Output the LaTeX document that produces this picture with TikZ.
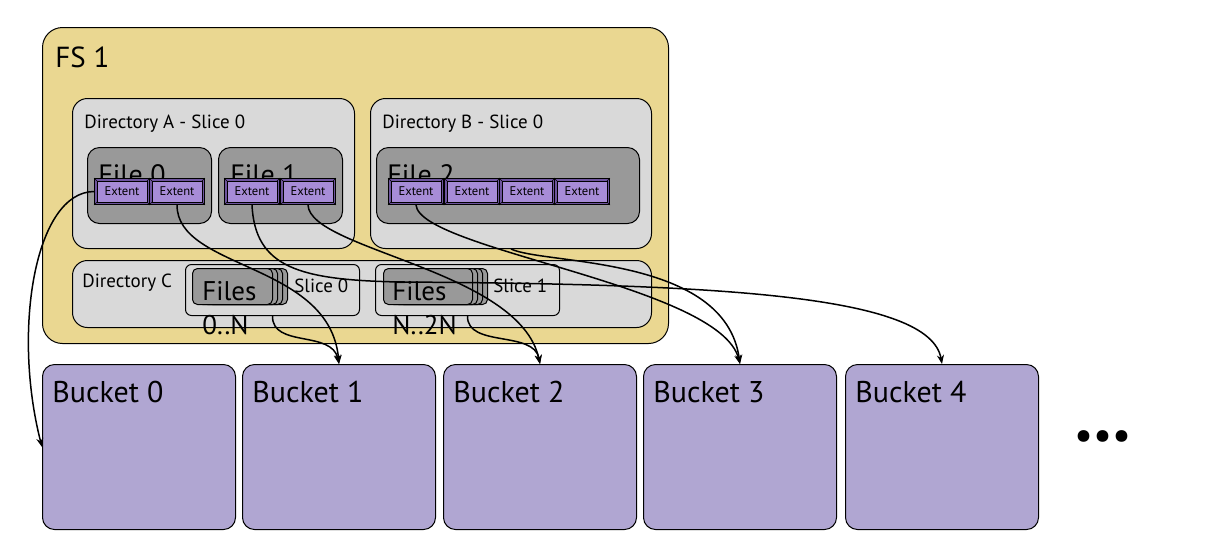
\documentclass[tikz,border=0pt]{standalone}
\usepackage{fontspec}
\setmainfont{PT Sans}
\usetikzlibrary{arrows.meta}

\definecolor{fsyellow}{RGB}{234,215,145}
\definecolor{dirgray}{RGB}{217,217,217}
\definecolor{filegray}{RGB}{153,153,153}
\definecolor{extentfill}{RGB}{167,140,215}
\definecolor{extentedge}{RGB}{110,84,158}
\definecolor{bucketfill}{RGB}{176,166,210}

\tikzset{
  box/.style={draw=black, line width=0.5pt, anchor=north west, inner sep=0pt},
  fsbox/.style={box, fill=fsyellow, rounded corners=10pt},
  dirbox/.style={box, fill=dirgray, rounded corners=7.5pt},
  filebox/.style={box, fill=filegray, rounded corners=6pt, minimum height=38pt},
  slicebox/.style={box, fill=dirgray, rounded corners=3pt, minimum height=25.5pt},
  stackbox/.style={box, fill=filegray, rounded corners=2.5pt, minimum height=18pt},
  bucketbox/.style={box, fill=bucketfill, rounded corners=6pt, minimum width=96.5pt, minimum height=82.5pt},
  extentbox/.style={box, fill=extentedge, minimum width=27.5pt, minimum height=13pt},
  bevel/.style={draw=black, line width=0.3pt},
  lbl/.style={anchor=base west, inner sep=0pt},
  link/.style={line width=0.75pt, -{Stealth[length=4.5pt,width=3.5pt]}},
}

\begin{document}
\begin{tikzpicture}[x=0.5pt, y=-0.5pt]
  \useasboundingbox (0,0) rectangle (1214,548);

  % file system
  \node[fsbox, minimum width=313pt, minimum height=158pt] (fs) at (42,27) {};
  \node[lbl, font=\fontsize{14.5}{16}\selectfont] (fslabel) at (55,67) {FS 1};

  % directories
  \node[dirbox, minimum width=141pt, minimum height=75pt] (dirA) at (72,98) {};
  \node[lbl, font=\fontsize{9.5}{11}\selectfont] (dirAlabel) at (84,128) {Directory A - Slice 0};
  \node[dirbox, minimum width=140.5pt, minimum height=75pt] (dirB) at (370,98) {};
  \node[lbl, font=\fontsize{9.5}{11}\selectfont] (dirBlabel) at (382,128) {Directory B - Slice 0};
  \node[dirbox, minimum width=289.5pt, minimum height=33.5pt] (dirC) at (72,260) {};
  \node[lbl, font=\fontsize{9.5}{11}\selectfont] (dirClabel) at (82,287) {Directory C};

  % files
  \node[filebox, minimum width=62pt] (file0) at (87,147) {};
  \node[lbl, font=\fontsize{14}{16}\selectfont] (file0label) at (98,184) {File 0};
  \node[filebox, minimum width=62pt] (file1) at (218,147) {};
  \node[lbl, font=\fontsize{14}{16}\selectfont] (file1label) at (230,184) {File 1};
  \node[filebox, minimum width=131.5pt] (file2) at (376,147) {};
  \node[lbl, font=\fontsize{14}{16}\selectfont] (file2label) at (387,184) {File 2};

  % extents
  \foreach \n/\x in {e0a/94, e0b/149, e1a/224, e1b/280, e2a/388, e2b/444, e2c/499, e2d/554} {
    \node[extentbox] (\n) at (\x,178) {};
    \draw[bevel] (\n.north west) -- ([shift={(3,3)}]\n.north west);
    \draw[bevel] (\n.north east) -- ([shift={(-3,3)}]\n.north east);
    \draw[bevel] (\n.south west) -- ([shift={(3,-3)}]\n.south west);
    \draw[bevel] (\n.south east) -- ([shift={(-3,-3)}]\n.south east);
    \draw[bevel, fill=extentfill] ([shift={(3,3)}]\n.north west) rectangle ([shift={(-3,-3)}]\n.south east);
    \node[font=\fontsize{6.3}{7}\selectfont, inner sep=0pt] at (\n) {Extent};
  }

  % slices of directory C
  \node[slicebox, minimum width=87pt] (sl0) at (185,264) {};
  \foreach \d in {15,10,5,0}
    \node[stackbox, minimum width=40pt] at (192+\d,268) {};
  \node[lbl, font=\fontsize{13.5}{15}\selectfont] (files0) at (202,300) {Files};
  \node[lbl, font=\fontsize{9.5}{11}\selectfont] (sl0label) at (294,292) {Slice 0};
  \node[lbl, font=\fontsize{13.5}{15}\selectfont] (range0) at (202,334) {0..N};

  \node[slicebox, minimum width=92pt] (sl1) at (375,264) {};
  \foreach \d in {15,10,5,0}
    \node[stackbox, minimum width=44.5pt] at (383+\d,268) {};
  \node[lbl, font=\fontsize{13.5}{15}\selectfont] (files1) at (392,300) {Files};
  \node[lbl, font=\fontsize{9.5}{11}\selectfont] (sl1label) at (493,292) {Slice 1};
  \node[lbl, font=\fontsize{13.5}{15}\selectfont] (range1) at (392,334) {N..2N};

  % buckets
  \foreach \i/\x in {0/42, 1/242, 2/443, 3/643, 4/845} {
    \node[bucketbox] (b\i) at (\x,364) {};
    \node[lbl, font=\fontsize{15}{17}\selectfont] at (\x+10,402) {Bucket \i};
  }
  \node[font=\fontsize{21}{24}\selectfont, inner sep=0pt] (more) at (1103,440) {•••};

  % connectors
  \draw[link] (e0a.west) .. controls (35,192) and (12,330) .. (b0.west);
  \draw[link] (e0b.south) .. controls (177,270) and (330,262) .. (b1.north);
  \draw[link] (sl0.south) .. controls (272,348) and (332,330) .. (b1.north);
  \draw[link] (sl1.south) .. controls (467,348) and (534,330) .. (b2.north);
  \draw[link] (e1a.south) .. controls (255,268) and (300,280) .. (400,282)
                          .. controls (720,284) and (930,295) .. (b4.north);
  \draw[link] (e1b.south) .. controls (310,250) and (520,270) .. (b2.north);
  \draw[link] (e2a.south) .. controls (420,250) and (720,285) .. (b3.north);
  \draw[link] (dirB.south) .. controls (545,265) and (725,255) .. (b3.north);
\end{tikzpicture}
\end{document}
